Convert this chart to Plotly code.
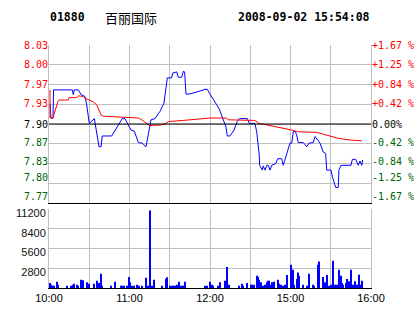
import plotly.graph_objects as go

# ---------------- data ----------------
stock_code = "01880"
stock_name = "百丽国际"
timestamp = "2008-09-02 15:54:08"
prev_close = 7.90

# trading minutes since 10:00 (10:00-12:30, 14:30-16:00 -> 0..240)
price_t = [0.75, 1.5, 3.0, 3.4, 17.4, 18.1, 18.9, 21.8, 23.9, 26.8,
           28.1, 30.0, 33.8, 35.6, 37.3, 38.8, 39.7, 46.7, 54.6, 56.6,
           58.7, 61.1, 63.6, 66.6, 69.5, 72.3, 74.0, 76.0, 79.0, 82.7,
           85.7, 87.2, 88.2, 91.4, 92.2, 95.2, 96.4, 98.9, 100.1, 101.1,
           101.4, 102.1, 104.6, 106.4, 112.5, 116.3, 118.0, 120.0, 122.5, 125.0,
           126.9, 129.5, 131.9, 132.9, 134.9, 137.9, 140.3, 141.8, 147.8, 149.3,
           153.5, 154.8, 155.8, 156.7, 157.0, 158.0, 159.0, 159.7, 161.0, 162.3,
           163.5, 164.7, 166.0, 169.0, 170.5, 173.4, 174.6, 175.4, 177.2, 178.4,
           179.6, 180.9, 182.1, 183.4, 184.6, 185.8, 189.5, 192.1, 193.8, 197.0,
           198.3, 200.7, 202.0, 204.4, 206.2, 207.0, 210.2, 211.2, 212.4, 213.7,
           215.6, 216.1, 217.6, 225.1, 226.1, 228.6, 230.5, 231.8, 233.1, 233.8]
price_v = [7.934, 7.910, 7.910, 7.957, 7.957, 7.949, 7.957, 7.957, 7.949, 7.946,
           7.932, 7.901, 7.909, 7.887, 7.862, 7.862, 7.880, 7.880, 7.909, 7.909,
           7.899, 7.890, 7.888, 7.869, 7.868, 7.862, 7.882, 7.907, 7.909, 7.921,
           7.935, 7.960, 7.977, 7.977, 7.985, 7.987, 7.978, 7.978, 7.988, 7.987,
           7.965, 7.950, 7.950, 7.951, 7.955, 7.958, 7.958, 7.950, 7.940, 7.932,
           7.925, 7.910, 7.895, 7.880, 7.880, 7.890, 7.904, 7.909, 7.909, 7.901,
           7.901, 7.887, 7.870, 7.848, 7.831, 7.827, 7.823, 7.830, 7.823, 7.831,
           7.831, 7.823, 7.831, 7.834, 7.842, 7.842, 7.831, 7.837, 7.851, 7.857,
           7.868, 7.868, 7.887, 7.888, 7.882, 7.869, 7.869, 7.862, 7.868, 7.869,
           7.879, 7.872, 7.868, 7.853, 7.851, 7.823, 7.823, 7.812, 7.801, 7.794,
           7.794, 7.823, 7.831, 7.831, 7.841, 7.841, 7.831, 7.838, 7.831, 7.840]

avg_t = [0.75, 0.8, 3.0, 4.5, 6.5, 7.5, 14.4, 14.9, 20.6, 21.8,
         25.6, 26.8, 29.8, 33.0, 35.6, 36.7, 38.8, 40.5, 46.7, 57.9,
         66.6, 69.1, 72.8, 75.3, 77.7, 82.7, 87.2, 88.9, 100.1, 120.0,
         132.4, 133.6, 152.3, 154.3, 156.5, 163.5, 169.0, 175.9, 180.9, 185.8,
         199.5, 204.4, 211.9, 215.6, 225.6, 233.1]
avg_v = [7.957, 7.910, 7.910, 7.923, 7.937, 7.940, 7.940, 7.944, 7.944, 7.947,
         7.946, 7.943, 7.940, 7.937, 7.932, 7.926, 7.915, 7.913, 7.912, 7.911,
         7.910, 7.907, 7.901, 7.897, 7.898, 7.898, 7.901, 7.904, 7.906, 7.910,
         7.910, 7.907, 7.906, 7.905, 7.901, 7.898, 7.895, 7.893, 7.890, 7.887,
         7.886, 7.883, 7.879, 7.876, 7.873, 7.872]

vol_t = [0.75, 1.2, 2.7, 3.7, 6.2, 6.9, 13.2, 16.4, 17.6, 18.6,
         21.1, 21.9, 24.1, 25.1, 28.6, 29.6, 33.8, 36.0, 37.0, 38.8,
         39.7, 46.4, 49.2, 53.7, 54.6, 56.1, 57.9, 59.4, 60.4, 61.6,
         63.4, 65.8, 66.8, 69.1, 72.3, 74.0, 75.3, 76.5, 78.3, 84.5,
         87.2, 88.2, 90.2, 91.4, 92.7, 93.9, 95.6, 96.6, 97.6, 98.9,
         100.1, 101.6, 116.3, 118.0, 120.0, 121.3, 122.5, 126.2, 127.4, 131.2,
         132.1, 132.9, 133.9, 141.8, 144.1, 144.8, 147.8, 150.3, 151.3, 152.8,
         155.0, 155.8, 156.7, 157.8, 159.3, 161.0, 162.3, 163.5, 164.2, 165.2,
         166.2, 167.7, 170.9, 171.6, 173.1, 174.6, 176.1, 177.6, 180.6, 181.9,
         182.9, 185.1, 185.8, 186.6, 189.5, 192.5, 194.0, 196.5, 197.5, 200.5,
         201.5, 204.0, 205.7, 207.4, 208.9, 210.0, 211.9, 213.2, 214.9, 216.4,
         217.4, 218.4, 219.4, 221.4, 222.3, 223.8, 225.3, 226.8, 228.3, 229.8,
         231.3, 232.3, 233.5]
vol_v = [710, 470, 330, 330, 900, 470, 330, 330, 470, 610,
         470, 330, 1180, 1090, 800, 610, 610, 1040, 710, 2030,
         330, 330, 900, 330, 330, 330, 330, 1560, 800, 330,
         330, 470, 330, 330, 1470, 330, 10970, 330, 1180, 330,
         1320, 1510, 330, 330, 330, 330, 470, 900, 330, 330,
         330, 900, 330, 330, 900, 470, 330, 330, 800, 1040,
         330, 2980, 470, 330, 610, 330, 710, 470, 470, 470,
         1750, 1560, 1180, 800, 330, 470, 800, 1040, 1040, 470,
         800, 900, 1180, 610, 470, 330, 470, 1840, 3310, 2600,
         470, 1280, 2180, 1750, 470, 330, 2030, 470, 330, 3310,
         3740, 1560, 800, 1840, 330, 470, 3880, 470, 470, 2600,
         1750, 710, 470, 710, 1280, 950, 2600, 470, 950, 470,
         1890, 470, 1040]

x_ticks = [0, 30, 60, 90, 120, 150, 180, 210, 240]
x_labels = ["10:00", "", "11:00", "", "12:00", "", "15:00", "", "16:00"]
price_labels = ["7.77", "7.80", "7.83", "7.87", "7.90", "7.93", "7.97", "8.00", "8.03"]
pct_labels = ["-1.67 %", "-1.25 %", "-0.84 %", "-0.42 %", "0.00%",
              "+0.42 %", "+0.84 %", "+1.25 %", "+1.67 %"]
max_pct = 1.67
vol_ticks = [0, 2800, 5600, 8400, 11200]
vol_labels = ["", "2800", "5600", "8400", "11200"]

# ---------------- style ----------------
GRID = "#c0c0c0"
RED = "#ff0000"
GREEN = "#006400"
MONO = "DejaVu Sans Mono"
SANS = "Liberation Sans"
W, H = 414, 314
ML, MR, MT, MB = 49, 43, 45, 26
PH = H - MT - MB
PW = W - ML - MR
price_dom = [85 / PH, 1.0]
vol_dom = [0.0, 79 / PH]
label_lift_px = [6.3, 6.0, 2.0, 1.0, 0, 0.5, 0, 0, 0]

step = prev_close * max_pct / 100 / 4
y_grid = [prev_close + k * step for k in range(-4, 5)]
ymin, ymax = y_grid[0], y_grid[-1]
units_per_px = (ymax - ymin) / (PH - 85)
label_pos = [v + s * units_per_px for v, s in zip(y_grid, label_lift_px)]


def colour(k):
    return RED if k > 0 else ("#000000" if k == 0 else GREEN)


left_text = [f'<span style="color:{colour(k)}">{t}</span>'
             for k, t in zip(range(-4, 5), price_labels)]
right_text = [f'<span style="color:{colour(k)}">{t}</span>'
              for k, t in zip(range(-4, 5), pct_labels)]

fig = go.Figure()
fig.add_trace(go.Bar(x=vol_t, y=vol_v, xaxis="x2", yaxis="y2", width=0.75,
                     marker=dict(color="#0000ff", line=dict(width=0))))
fig.add_trace(go.Scatter(x=price_t, y=price_v, mode="lines", xaxis="x", yaxis="y",
                         line=dict(color="#0000ff", width=1)))
fig.add_trace(go.Scatter(x=avg_t, y=avg_v, mode="lines", xaxis="x", yaxis="y",
                         line=dict(color=RED, width=1)))
fig.add_trace(go.Scatter(x=[None], y=[None], xaxis="x", yaxis="y3", hoverinfo="skip"))
fig.add_trace(go.Scatter(x=[None], y=[None], xaxis="x", yaxis="y4", hoverinfo="skip"))

fig.add_shape(type="line", xref="paper", yref="y", x0=0, x1=1, y0=prev_close, y1=prev_close,
              line=dict(color="black", width=1))

ann_y = 1 + (MT - 17) / PH
fig.update_layout(
    width=W, height=H, margin=dict(l=ML, r=MR, t=MT, b=MB, autoexpand=False),
    paper_bgcolor="white", plot_bgcolor="white", showlegend=False,
    xaxis=dict(domain=[0, 1], anchor="y", range=[0, 240], tickmode="array", tickvals=x_ticks,
               showticklabels=False, showgrid=True, gridcolor=GRID, gridwidth=1, zeroline=False,
               showline=True, linecolor="black", linewidth=1, ticks="", automargin=False),
    xaxis2=dict(domain=[0, 1], anchor="y2", range=[0, 240], tickmode="array", tickvals=x_ticks,
                ticktext=x_labels, showgrid=True, gridcolor=GRID, gridwidth=1, zeroline=False,
                showline=True, linecolor="black", linewidth=1, ticks="", automargin=False,
                tickfont=dict(family=SANS, size=11, color="black")),
    yaxis=dict(domain=price_dom, anchor="x", range=[ymin, ymax], tickmode="array", tickvals=y_grid,
               showticklabels=False, showgrid=True, gridcolor=GRID, gridwidth=1, zeroline=False,
               showline=True, linecolor=GRID, mirror=True, ticks="", automargin=False),
    yaxis3=dict(overlaying="y", anchor="x", side="left", range=[ymin, ymax], tickmode="array",
                tickvals=label_pos, ticktext=left_text, showgrid=False, zeroline=False,
                showline=False, ticks="", automargin=False, tickfont=dict(family=MONO, size=10)),
    yaxis4=dict(overlaying="y", anchor="x", side="right", range=[ymin, ymax], tickmode="array",
                tickvals=label_pos, ticktext=right_text, showgrid=False, zeroline=False,
                showline=False, ticks="", automargin=False, tickfont=dict(family=MONO, size=10)),
    yaxis2=dict(domain=vol_dom, anchor="x2", range=[0, 11200], tickmode="array", tickvals=vol_ticks,
                ticktext=vol_labels, showgrid=True, gridcolor=GRID, gridwidth=1, zeroline=False,
                showline=True, linecolor=GRID, mirror=True, ticks="", ticklabelshift=4,
                automargin=False, tickfont=dict(family=SANS, size=11, color="#111111")),
    annotations=[
        dict(text=f"<b>{stock_code}</b>", xref="paper", yref="paper", x=(48 - ML) / PW, y=ann_y,
             xanchor="left", yanchor="middle", showarrow=False,
             font=dict(family=MONO, size=11.5, color="black")),
        dict(text=stock_name, xref="paper", yref="paper", x=(103 - ML) / PW, y=ann_y,
             xanchor="left", yanchor="middle", showarrow=False,
             font=dict(family="Noto Sans CJK SC", size=13, color="black")),
        dict(text=f"<b>{timestamp}</b>", xref="paper", yref="paper", x=(235.5 - ML) / PW, y=ann_y,
             xanchor="left", yanchor="middle", showarrow=False,
             font=dict(family=MONO, size=11.5, color="black")),
    ],
)

fig.write_html("out.html")
